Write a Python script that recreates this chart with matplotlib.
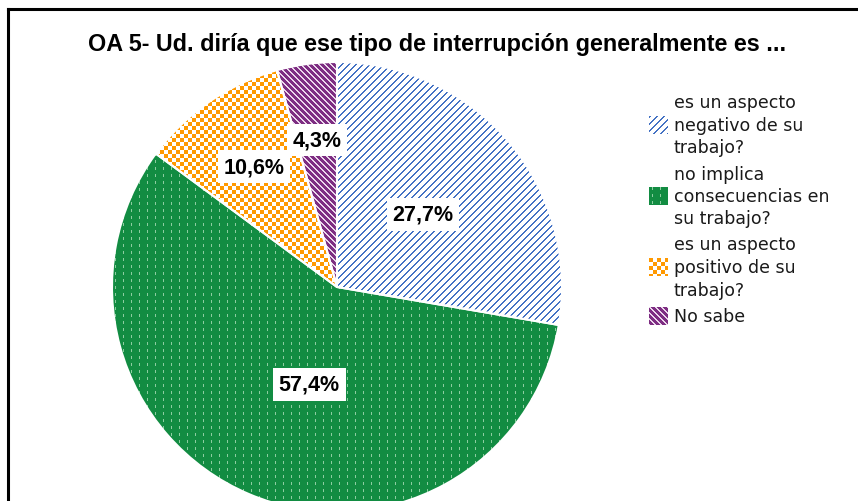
import numpy as np
import matplotlib
matplotlib.use("Agg")
import matplotlib.pyplot as plt
from matplotlib.lines import Line2D

# survey answers and their shares (%)
categories = ["es un aspecto\nnegativo de su\ntrabajo?",
              "no implica\nconsecuencias en\nsu trabajo?",
              "es un aspecto\npositivo de su\ntrabajo?",
              "No sabe"]
shares = [27.7, 57.4, 10.6, 4.3]
pct_labels = ["27,7%", "57,4%", "10,6%", "4,3%"]
title = "OA 5- Ud. diría que ese tipo de interrupción generalmente es ..."

W, H = 858, 502
fig = plt.figure(figsize=(W / 100, H / 100), dpi=100)
fig.patch.set_facecolor("white")


def texture(kind, n):
    r, c = np.mgrid[0:n, 0:n]
    img = np.ones((n, n, 3))
    if kind == 0:  # blue diagonal lines on white
        m = ((c + r) % 7) < 2
        img[m] = np.array([68, 114, 196]) / 255
    elif kind == 1:  # green with light dashes
        img[:] = np.array([18, 140, 66]) / 255
        m = ((c % 8) == 3) & ((r % 7) < 3)
        img[m] = np.array([140, 205, 160]) / 255
    elif kind == 2:  # orange checkerboard
        m = ((r // 4 + c // 4) % 2) == 0
        img[m] = np.array([255, 153, 0]) / 255
    else:  # purple with white diagonal stripes
        img[:] = np.array([125, 45, 130]) / 255
        m = ((c - r) % 6) < 2
        img[m] = np.array([235, 215, 235]) / 255
    return img


# pie axes: centre (337, 288) px, radius 225 px
cx, cy, rad = 337, 288, 225
ax = fig.add_axes([(cx - rad) / W, (H - cy - rad) / H, 2 * rad / W, 2 * rad / H])
wedges, _ = ax.pie(shares, startangle=90, counterclock=False, radius=1,
                   wedgeprops=dict(facecolor="none", linewidth=0))
for i, w in enumerate(wedges):
    ax.imshow(texture(i, 2 * rad), extent=(-1, 1, -1, 1),
              interpolation="nearest", clip_path=w, zorder=1)
ax.pie(shares, startangle=90, counterclock=False, radius=1,
       wedgeprops=dict(facecolor="none", edgecolor="white", linewidth=1.5, zorder=2))
ax.set_xlim(-1, 1)
ax.set_ylim(-1, 1)
ax.set_aspect("equal")
ax.axis("off")

# percentage labels in white boxes
label_r = [0.5, 0.45, 0.65, 0.66]
label_shift = [0, -2, 0, 0]
total = sum(shares)
cum = 0
for v, txt, lr, sh in zip(shares, pct_labels, label_r, label_shift):
    ang = np.deg2rad(90 - (cum + v / 2 + sh) / total * 360)
    cum += v
    ax.text(lr * np.cos(ang), lr * np.sin(ang), txt, ha="center", va="center",
            fontsize=15.5, fontweight="bold", family="Liberation Sans", zorder=5,
            bbox=dict(facecolor="white", edgecolor="none", pad=4))

fig.text(437 / W, 1 - 45 / H, title, ha="center", va="center",
         fontsize=16.8, fontweight="bold", family="Liberation Sans")

# legend: icon + multi-line text
icon_y = [126, 197, 268, 317]
for i, (lab, iy) in enumerate(zip(categories, icon_y)):
    iax = fig.add_axes([649 / W, 1 - (iy + 9) / H, 19 / W, 18 / H])
    iax.imshow(texture(i, 19)[:18], interpolation="nearest")
    iax.axis("off")
    lines = lab.split("\n")
    y0 = iy - (len(lines) - 1) * 22.5 / 2
    for k, ln in enumerate(lines):
        fig.text(674 / W, 1 - (y0 + k * 22.5) / H, ln, ha="left", va="center",
                 fontsize=12.5, color="#1a1a1a", family="DejaVu Sans")

# chart frame
fig.add_artist(Line2D([8 / W, 8 / W], [1 - 10 / H, 0], transform=fig.transFigure,
                      color="black", linewidth=2.2))
fig.add_artist(Line2D([8 / W, 1], [1 - 10 / H, 1 - 10 / H], transform=fig.transFigure,
                      color="black", linewidth=2.2))

fig.savefig("out.png", dpi=100)
